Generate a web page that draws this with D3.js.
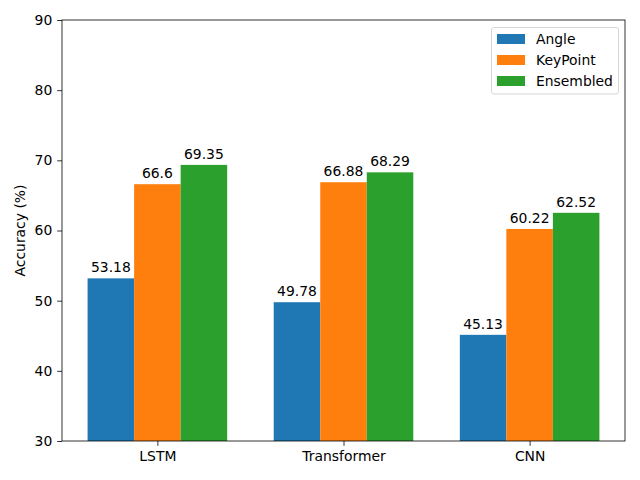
<!DOCTYPE html>
<html><head><meta charset="utf-8">
<script src="https://cdn.jsdelivr.net/npm/d3@7"></script>
<style>body{margin:0;background:#fff}text{font-family:"DejaVu Sans",sans-serif}</style>
</head><body>
<svg id="c" width="640" height="480"></svg>
<script>
const categories = ["LSTM", "Transformer", "CNN"];
const seriesNames = ["Angle", "KeyPoint", "Ensembled"];
const angle = [53.18, 49.78, 45.13];
const keyPoint = [66.6, 66.88, 60.22];
const ensembled = [69.35, 68.29, 62.52];
const labels = [["53.18","49.78","45.13"],["66.6","66.88","60.22"],["69.35","68.29","62.52"]];
const yTicks = [30, 40, 50, 60, 70, 80, 90];
const colors = ["#1f77b4", "#ff7f0e", "#2ca02c"];
const series = [angle, keyPoint, ensembled];

const FS = 13.9;
const svg = d3.select("#c");
const L = 62, R = 625, T = 20, B = 441;
const bw = 0.25;
const x = d3.scaleLinear().domain([-0.5125, 2.5125]).range([L, R]);
const y = d3.scaleLinear().domain([30, 90]).range([B, T]);

const g = svg.append("g");
series.forEach((vals, si) => {
  const off = (si - 1) * bw;
  vals.forEach((v, ci) => {
    const x0 = x(ci + off - bw / 2), x1 = x(ci + off + bw / 2);
    g.append("rect").attr("x", x0).attr("y", y(v)).attr("width", x1 - x0).attr("height", y(30) - y(v)).attr("fill", colors[si]);
    g.append("text").attr("x", (x0 + x1) / 2).attr("y", y(v) - 6).attr("text-anchor", "middle")
      .attr("font-size", FS).attr("fill", "#000").text(labels[si][ci]);
  });
});

// axes
const yAxis = d3.axisLeft(y).tickValues(yTicks).tickSize(4.86).tickPadding(4.86);
const ya = svg.append("g").attr("transform", `translate(${L},0)`).call(yAxis);
const xAxis = d3.axisBottom(x).tickValues([0, 1, 2]).tickFormat(i => categories[i]).tickSize(4.86).tickPadding(4.86);
const xa = svg.append("g").attr("transform", `translate(0,${B})`).call(xAxis);
[ya, xa].forEach(a => {
  a.select(".domain").remove();
  a.selectAll("text").attr("font-size", FS).attr("fill", "#000").attr("font-family", "DejaVu Sans");
  a.selectAll("line").attr("stroke", "#000").attr("stroke-width", 0.8);
});
svg.append("rect").attr("x", L).attr("y", T).attr("width", R - L).attr("height", B - T)
  .attr("fill", "none").attr("stroke", "#000").attr("stroke-width", 0.8);

svg.append("text").attr("transform", `translate(25,${(T + B) / 2}) rotate(-90)`).attr("text-anchor", "middle")
  .attr("font-size", FS).attr("fill", "#000").text("Accuracy (%)");

// legend
const lg = svg.append("g");
lg.append("rect").attr("x", 491.5).attr("y", 27.5).attr("width", 127).attr("height", 66.5).attr("rx", 2.5)
  .attr("fill", "#fff").attr("fill-opacity", 0.8).attr("stroke", "#ccc").attr("stroke-width", 0.8);
seriesNames.forEach((n, i) => {
  const cy = 39 + i * 21;
  lg.append("rect").attr("x", 497).attr("y", cy - 5).attr("width", 28).attr("height", 10).attr("fill", colors[i]);
  lg.append("text").attr("x", 536).attr("y", cy).attr("dy", "0.35em").attr("font-size", FS).attr("fill", "#000").text(n);
});
</script>
</body></html>
